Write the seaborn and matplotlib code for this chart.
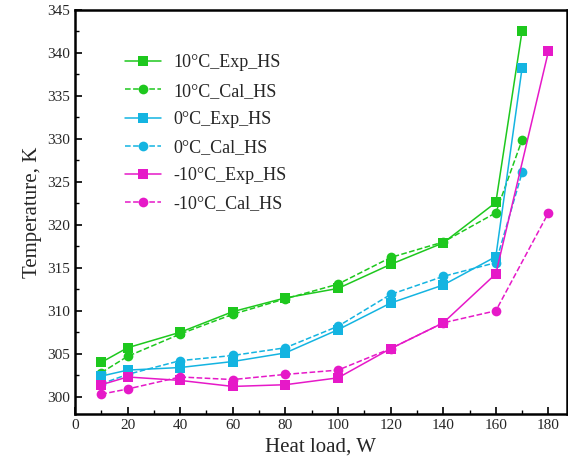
import matplotlib
matplotlib.use("Agg")
import matplotlib.pyplot as plt
import seaborn as sns
import pandas as pd
from matplotlib.ticker import MultipleLocator

sns.set_style("white")
plt.rcParams['font.family'] = ['Liberation Serif', 'DejaVu Serif']

x_10 = [10, 20, 40, 60, 80, 100, 120, 140, 160, 170]
x_m10 = [10, 20, 40, 60, 80, 100, 120, 140, 160, 180]

exp_10 = [304.0, 305.7, 307.5, 309.9, 311.5, 312.6, 315.4, 317.9, 322.6, 342.6]
cal_10 = [302.8, 304.7, 307.3, 309.6, 311.4, 313.1, 316.2, 318.0, 321.4, 329.9]
exp_0 = [302.4, 303.1, 303.4, 304.1, 305.1, 307.8, 310.9, 313.0, 316.3, 338.3]
cal_0 = [301.5, 302.6, 304.2, 304.8, 305.7, 308.2, 311.9, 314.0, 315.6, 326.1]
exp_m10 = [301.4, 302.3, 301.9, 301.2, 301.4, 302.2, 305.6, 308.6, 314.3, 340.2]
cal_m10 = [300.3, 300.9, 302.3, 302.0, 302.6, 303.1, 305.6, 308.6, 310.0, 321.4]

labels = ["10\u00b0C_Exp_HS", "10\u00b0C_Cal_HS", "0\u00b0C_Exp_HS",
          "0\u00b0C_Cal_HS", "-10\u00b0C_Exp_HS", "-10\u00b0C_Cal_HS"]
xs = [x_10, x_10, x_10, x_10, x_m10, x_m10]
ys = [exp_10, cal_10, exp_0, cal_0, exp_m10, cal_m10]
colors = ['#1ec81e', '#1ec81e', '#14b4e1', '#14b4e1', '#e619c8', '#e619c8']
markers = ['s', 'o', 's', 'o', 's', 'o']
styles = ['-', '--', '-', '--', '-', '--']

fig = plt.figure(figsize=(5.68, 4.72), dpi=100)
ax = fig.add_axes([0.132, 0.123, 0.866, 0.856])

for lab, x, y, c, m, ls in zip(labels, xs, ys, colors, markers, styles):
    df = pd.DataFrame({'x': x, 'y': y})
    sns.lineplot(data=df, x='x', y='y', ax=ax, color=c, marker=m,
                 linestyle=ls, linewidth=1.1, markersize=7,
                 markeredgewidth=0, label=lab)

ax.set_xlim(0, 187)
ax.set_ylim(298, 345)
ax.xaxis.set_major_locator(MultipleLocator(20))
ax.xaxis.set_minor_locator(MultipleLocator(10))
ax.yaxis.set_major_locator(MultipleLocator(5))
ax.yaxis.set_minor_locator(MultipleLocator(2.5))
ax.tick_params(which='both', direction='in', top=False, right=False,
               bottom=True, left=True, labelsize=11, color='black')
ax.tick_params(which='major', length=5, width=1.2)
ax.tick_params(which='minor', length=3, width=1.0)
for s in ax.spines.values():
    s.set_color('black')
    s.set_linewidth(1.8)

ax.set_xlabel("Heat load, W", fontsize=15)
ax.set_ylabel("Temperature, K", fontsize=15)

leg = ax.legend(loc='upper left', bbox_to_anchor=(0.068, 0.93), frameon=False,
                fontsize=13, handlelength=2.0, labelspacing=0.62,
                handletextpad=0.7)

fig.savefig("out.png", dpi=100)
